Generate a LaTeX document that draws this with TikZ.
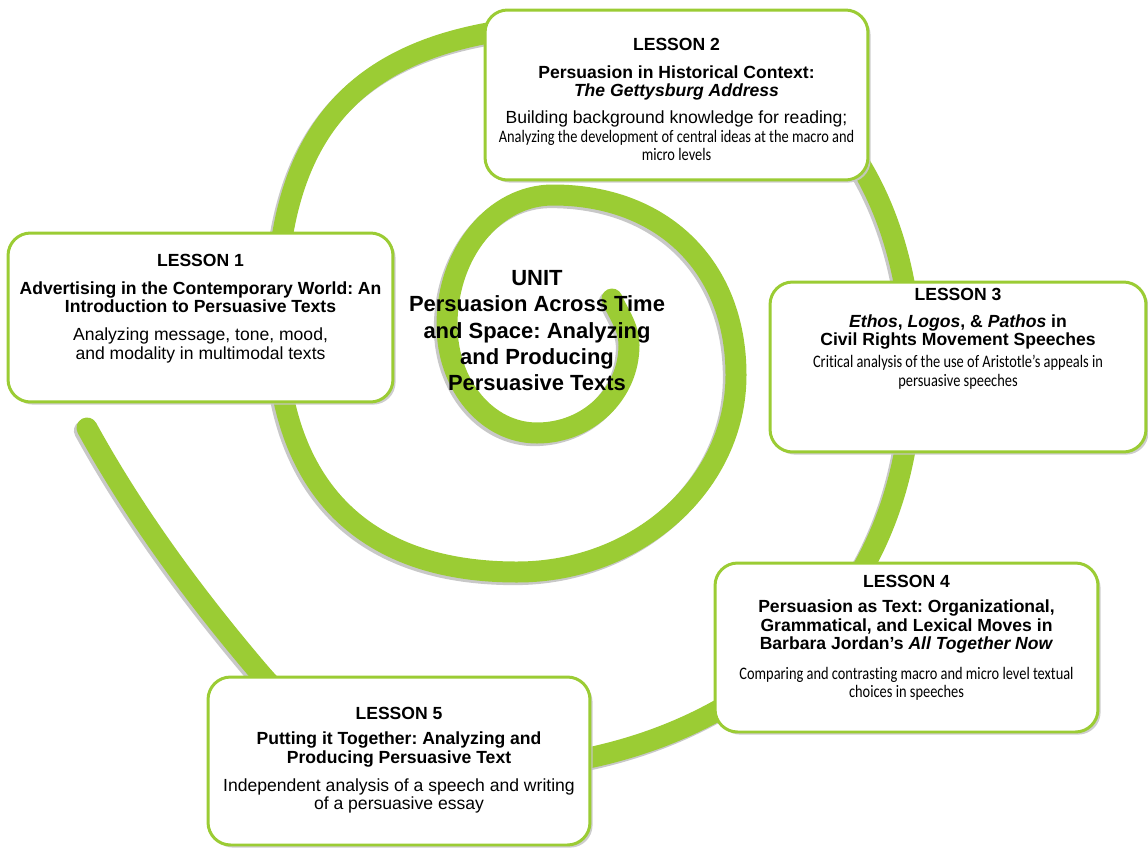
\documentclass[tikz,border=0pt]{standalone}
\usepackage{fontspec}
\setmainfont{Liberation Sans}
\newfontfamily\condfont[FakeStretch=0.82, Ligatures=NoCommon]{Carlito}
\usetikzlibrary{positioning, shadows}

\definecolor{spiralgreen}{RGB}{155,204,52}
\definecolor{shadowgray}{RGB}{200,200,200}

\begin{document}
\frenchspacing
\begin{tikzpicture}[x=0.02cm, y=-0.02cm,
    lessonbox/.style={draw=spiralgreen, line width=1.7pt, fill=white, rounded corners=0.45cm, inner sep=0pt,
        drop shadow={shadow xshift=1.5pt, shadow yshift=-1.5pt, fill=shadowgray, opacity=0.9}},
    lessontext/.style={align=center, inner sep=0pt, font=\fontsize{10}{10.5}\selectfont},
    spiral/.style={draw=spiralgreen, line width=0.42cm, line cap=round,
        preaction={draw=shadowgray, line width=0.42cm, line cap=round, transform canvas={xshift=-1.5pt, yshift=-1.5pt}}}
]
\useasboundingbox (0,0) rectangle (1148,848);

% Spiral (behind everything), quarter turn by quarter turn
\draw[spiral] (612,299) .. controls (618,313) and (629,327) .. (629,345)
    .. controls (629,394) and (588,433) .. (537,433)
    .. controls (487,433) and (447,385) .. (447,325)
    .. controls (447,253) and (494,195) .. (553,195)
    .. controls (663,195) and (736,267) .. (736,375)
    .. controls (736,484) and (638,572) .. (517,572)
    .. controls (360,572) and (276,484) .. (276,320)
    .. controls (276,111) and (373,24) .. (600,24)
    .. controls (787,24) and (912,161) .. (912,370)
    .. controls (912,620) and (720,770) .. (470,770)
    .. controls (390,770) and (320,743) .. (260,673)
    .. controls (190,591) and (132,510) .. (87,428);

% Lesson boxes
\node (lone)   [lessonbox, minimum width=7.7cm,  minimum height=3.38cm] at (200.5,317.5) {};
\node (ltwo)   [lessonbox, minimum width=7.66cm, minimum height=3.4cm]  at (676.5,95) {};
\node (lthree) [lessonbox, minimum width=7.52cm, minimum height=3.4cm]  at (958,367) {};
\node (lfour)  [lessonbox, minimum width=7.66cm, minimum height=3.38cm] at (906.5,647.5) {};
\node (lfive)  [lessonbox, minimum width=7.64cm, minimum height=3.36cm] at (399,761) {};

% Lesson texts
\node (lonetext) [lessontext, below=0.44cm of lone.north] {\textbf{LESSON 1}\\[5.5pt]
    \textbf{Advertising in the Contemporary World: An}\\
    \textbf{Introduction to Persuasive Texts}\\[5.5pt]
    Analyzing message, tone, mood,\\
    and modality in multimodal texts};
\node (ltwotext) [lessontext, below=0.58cm of ltwo.north] {\textbf{LESSON 2}\\[5.5pt]
    \textbf{Persuasion in Historical Context:}\\
    \textbf{\textit{The Gettysburg Address}}\\[5pt]
    Building background knowledge for reading;\\
    {\condfont Analyzing the development of central ideas at the macro and}\\
    {\condfont micro levels}};
\node (lthreetext) [lessontext, below=0.14cm of lthree.north] {\textbf{LESSON 3}\\[5pt]
    \textbf{\textit{Ethos}, \textit{Logos}, \& \textit{Pathos} in}\\
    \textbf{Civil Rights Movement Speeches}\\[2pt]
    {\condfont Critical analysis of the use of Aristotle’s appeals in}\\
    {\condfont persuasive speeches}};
\node (lfourtext) [lessontext, below=0.26cm of lfour.north] {\textbf{LESSON 4}\\[4pt]
    \textbf{Persuasion as Text: Organizational,}\\
    \textbf{Grammatical, and Lexical Moves in}\\
    \textbf{Barbara Jordan’s \textit{All Together Now}}\\[6.5pt]
    {\condfont Comparing and contrasting macro and micro level textual}\\
    {\condfont choices in speeches}};
\node (lfivetext) [lessontext, below=0.62cm of lfive.north] {\textbf{LESSON 5}\\[4pt]
    \textbf{Putting it Together: Analyzing and}\\
    \textbf{Producing Persuasive Text}\\[5.5pt]
    Independent analysis of a speech and writing\\
    of a persuasive essay};

% Unit title over the inner spiral
\node (unit) [align=center, inner sep=0pt, font=\fontsize{12.5}{15}\selectfont\bfseries, anchor=north] at (537,270)
    {UNIT\\Persuasion Across Time\\and Space: Analyzing\\and Producing\\Persuasive Texts};

\end{tikzpicture}
\end{document}
